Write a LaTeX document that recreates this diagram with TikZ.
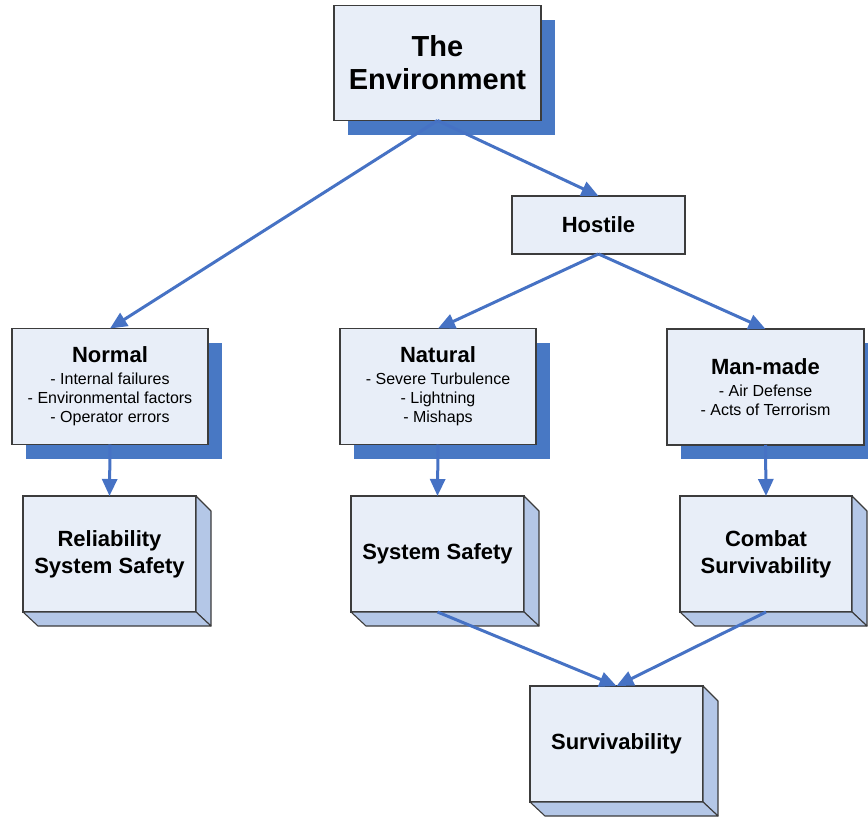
\documentclass[tikz,border=0pt]{standalone}
\usepackage{fontspec}
\setmainfont{Liberation Sans}
\usetikzlibrary{arrows.meta,shadows}
\definecolor{boxfill}{RGB}{232,238,248}
\definecolor{shadowblue}{RGB}{72,120,196}
\definecolor{arrowblue}{RGB}{70,114,196}
\definecolor{sideblue}{RGB}{180,199,231}
\definecolor{edgegray}{RGB}{60,60,60}
\newcommand{\bigf}{\bfseries\fontsize{22}{27}\selectfont}
\newcommand{\subf}{\mdseries\fontsize{16}{19}\selectfont}
\begin{document}
\begin{tikzpicture}[x=1pt,y=-1pt,
  box/.style={draw=edgegray,line width=1.3pt,fill=boxfill,inner sep=0pt,outer sep=0pt,
    align=center,font=\bigf},
  listbox/.style={box,font=\bfseries\fontsize{22}{19}\selectfont},
  shadowed/.style={drop shadow={shadow xshift=14pt,shadow yshift=-14pt,opacity=1,fill=shadowblue,shadow scale=1}},
  side/.style={draw=edgegray,line width=1.1pt,fill=sideblue,line join=round},
  arr/.style={draw=arrowblue,line width=3pt,-{Triangle[length=17pt,width=15pt]}}
]
\useasboundingbox (0,0) rectangle (868,817);

% top
\node[box,shadowed,minimum width=207pt,minimum height=115pt,
  font=\bfseries\fontsize{29}{33}\selectfont] (env) at (437.5,63) {The\\Environment};
\node[box,minimum width=173pt,minimum height=58pt] (hostile) at (598.5,225) {Hostile};

% middle row
\node[listbox,shadowed,minimum width=196pt,minimum height=116pt] (normal) at (110,386.5)
  {Normal\\[3pt]\subf - Internal failures\\\subf - Environmental factors\\\subf - Operator errors};
\node[listbox,shadowed,minimum width=196pt,minimum height=116pt] (natural) at (438,386.5)
  {Natural\\[3pt]\subf - Severe Turbulence\\\subf - Lightning\\\subf - Mishaps};
\node[listbox,shadowed,minimum width=197pt,minimum height=116pt] (manmade) at (765.5,387)
  {Man-made\\[3pt]\subf - Air Defense\\\subf - Acts of Terrorism};

% 3D boxes
\node[box,minimum width=173pt,minimum height=116pt] (rel) at (109.5,554) {Reliability\\System Safety};
\node[box,minimum width=173pt,minimum height=116pt] (syss) at (437.5,554) {System Safety};
\node[box,minimum width=172pt,minimum height=116pt] (combat) at (766,554) {Combat\\Survivability};
\node[box,minimum width=173pt,minimum height=116pt] (surv) at (616.5,744) {Survivability};

\foreach \n in {rel,syss,combat,surv}{
  \draw[side] (\n.north east) -- ++(15,15) -- ([shift={(15,14)}]\n.south east) -- (\n.south east) -- cycle;
  \draw[side] (\n.south west) -- ++(15,14) -- ([shift={(15,14)}]\n.south east) -- (\n.south east) -- cycle;
}

% connectors
\draw[arr] (env.south) -- (normal.north);
\draw[arr] (env.south) -- (hostile.north);
\draw[arr] (hostile.south) -- (natural.north);
\draw[arr] (hostile.south) -- (manmade.north);
\draw[arr] (normal.south) -- (rel.north);
\draw[arr] (natural.south) -- (syss.north);
\draw[arr] (manmade.south) -- (combat.north);
\draw[arr] (syss.south) -- (surv.north);
\draw[arr] (combat.south) -- (surv.north);
\end{tikzpicture}
\end{document}
